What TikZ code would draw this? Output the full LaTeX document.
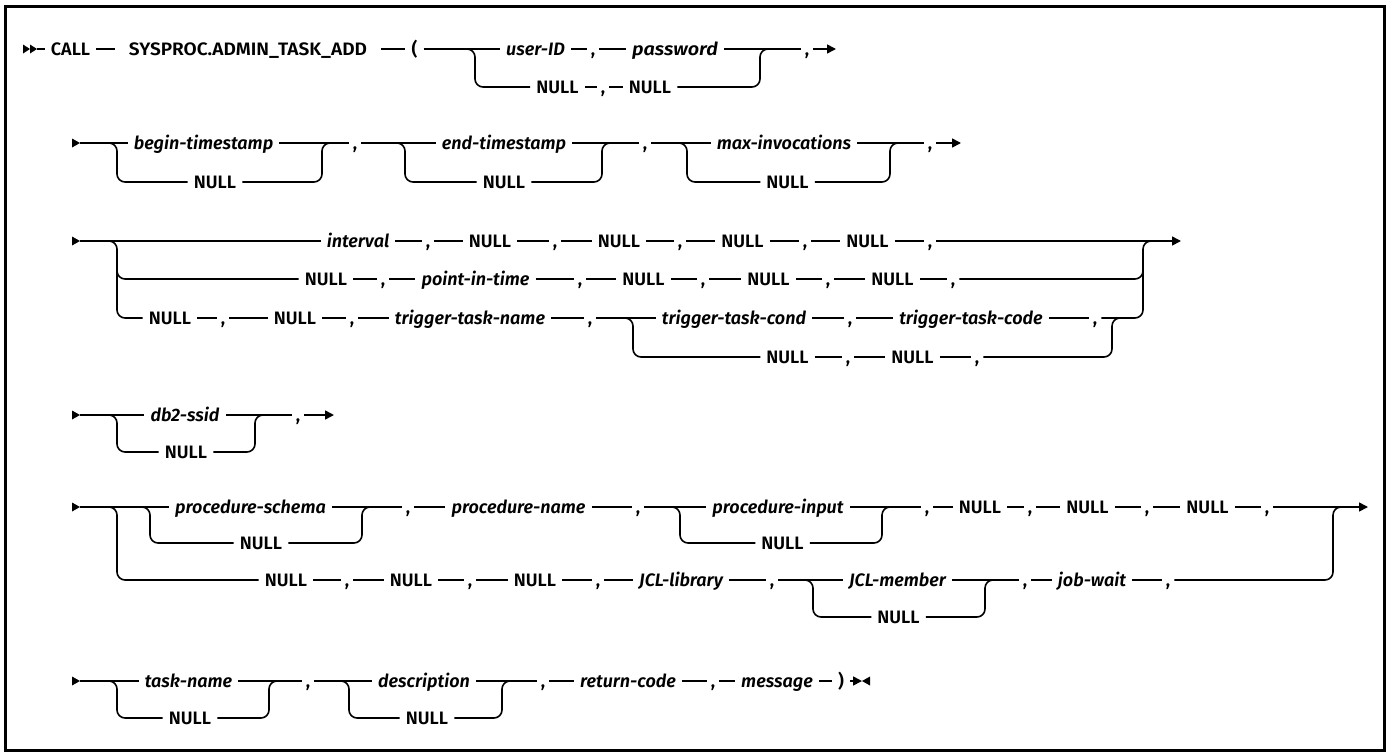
\documentclass[tikz,border=0pt]{standalone}
\usepackage{fontspec}
\setmainfont{Fira Sans}[UprightFont={* SemiBold}, ItalicFont={* SemiBold Italic}]
\usetikzlibrary{arrows.meta}
\newcommand{\diafs}{\fontsize{18}{21}\selectfont}
\begin{document}
\begin{tikzpicture}[x=1pt,y=-1pt,
  rail/.style={line width=1.6pt},
  joinpath/.style={rail, rounded corners=8pt},
  lbl/.style={inner xsep=6pt, inner ysep=0pt, text height=12.5pt, text depth=0pt, font=\diafs},
  kw/.style={lbl},
  var/.style={lbl, font=\diafs\itshape},
  cmma/.style={lbl, inner xsep=4pt},
  endarrow/.style={rail, -{Triangle[length=9pt,width=9pt]}},
  headtri/.style={fill=black}]
\useasboundingbox (0,0) rectangle (1389,755);
\draw[line width=3pt] (5,6.5) rectangle (1384.5,750);

% ---------------- Row 1
\fill[headtri] (23,44.5) -- (30,49) -- (23,53.5) -- cycle;
\fill[headtri] (30,44.5) -- (37,49) -- (30,53.5) -- cycle;
\coordinate (r1s) at (37,49);
\node[kw] (call) at (70.5,49) {CALL};
\node[kw, inner xsep=14pt] (sys) at (248,49) {\scalebox{1.06}[1]{SYSPROC.ADMIN\_TASK\_ADD}};
\node[kw] (lp) at (414.5,49) {(};
\node[var] (uid) at (535.5,49) {user-ID};
\node[cmma] (c1) at (593,49) {,};
\node[var] (pw) at (675,49) {\scalebox{1.1}[1]{password}};
\node[kw] (n1a) at (557.5,87) {NULL};
\node[cmma] (c1b) at (603,87) {,};
\node[kw] (n1b) at (650,87) {NULL};
\node[cmma] (c1e) at (807,49) {,};
\coordinate (s1) at (475,49);
\coordinate (j1) at (760,49);
\coordinate (r1e) at (836,49);
\draw[rail] (r1s) -- (call.west) (call.east) -- (sys.west) (sys.east) -- (lp.west)
  (lp.east) -- (uid.west) (uid.east) -- (c1.west) (c1.east) -- (pw.west) (pw.east) -- (c1e.west);
\draw[endarrow] (c1e.east) -- (r1e);
\draw[joinpath] ([xshift=-8pt]s1) -| (s1 |- n1a) -- (n1a.west);
\draw[rail] (n1a.east) -- (c1b.west) (c1b.east) -- (n1b.west);
\draw[joinpath] (n1b.east) -| (j1) -- ++(8,0);

% ---------------- Row 2
\fill[headtri] (72,138.5) -- (80,143) -- (72,147.5) -- cycle;
\coordinate (r2s) at (80,143);
\node[var] (bts) at (203.5,143) {begin-timestamp};
\node[kw] (n2a) at (215,182) {NULL};
\node[cmma] (c2a) at (355,143) {,};
\node[var] (ets) at (504,143) {end-timestamp};
\node[kw] (n2b) at (504,182) {NULL};
\node[cmma] (c2b) at (645,143) {,};
\node[var] (mi) at (784,143) {max-invocations};
\node[kw] (n2c) at (787.5,182) {NULL};
\node[cmma] (c2c) at (930,143) {,};
\coordinate (r2e) at (961,143);
\coordinate (s2a) at (117,143);
\coordinate (j2a) at (322,143);
\coordinate (s2b) at (405,143);
\coordinate (j2b) at (602,143);
\coordinate (s2c) at (687,143);
\coordinate (j2c) at (890,143);
\draw[rail] (r2s) -- (bts.west) (bts.east) -- (c2a.west) (c2a.east) -- (ets.west)
  (ets.east) -- (c2b.west) (c2b.east) -- (mi.west) (mi.east) -- (c2c.west);
\draw[endarrow] (c2c.east) -- (r2e);
\draw[joinpath] ([xshift=-8pt]s2a) -| (s2a |- n2a) -- (n2a.west);
\draw[joinpath] (n2a.east) -| (j2a) -- ++(8,0);
\draw[joinpath] ([xshift=-8pt]s2b) -| (s2b |- n2b) -- (n2b.west);
\draw[joinpath] (n2b.east) -| (j2b) -- ++(8,0);
\draw[joinpath] ([xshift=-8pt]s2c) -| (s2c |- n2c) -- (n2c.west);
\draw[joinpath] (n2c.east) -| (j2c) -- ++(8,0);

% ---------------- Row 3
\fill[headtri] (72,236.5) -- (80,241) -- (72,245.5) -- cycle;
\coordinate (r3s) at (80,241);
\node[var] (iv) at (358,241) {interval};
\node[cmma] (c3a) at (428,241) {,};
\node[kw] (n3a) at (490,241) {NULL};
\node[cmma] (c3b) at (555,241) {,};
\node[kw] (n3b) at (619,241) {NULL};
\node[cmma] (c3c) at (680,241) {,};
\node[kw] (n3c) at (742.5,241) {NULL};
\node[cmma] (c3d) at (805,241) {,};
\node[kw] (n3d) at (867.5,241) {NULL};
\node[cmma] (c3e) at (930,241) {,};
\coordinate (r3e) at (1181,241);
\node[kw] (n3e) at (326,279) {NULL};
\node[cmma] (c3f) at (383,279) {,};
\node[var] (pit) at (475.5,279) {point-in-time};
\node[cmma] (c3g) at (580,279) {,};
\node[kw] (n3f) at (643.5,279) {NULL};
\node[cmma] (c3h) at (703,279) {,};
\node[kw] (n3g) at (768.5,279) {NULL};
\node[cmma] (c3i) at (828,279) {,};
\node[kw] (n3h) at (892.5,279) {NULL};
\node[cmma] (c3j) at (953,279) {,};
\node[kw] (n3i) at (170,318) {NULL};
\node[cmma] (c3k) at (223,318) {,};
\node[kw] (n3j) at (295,318) {NULL};
\node[cmma] (c3l) at (352,318) {,};
\node[var] (ttn) at (470,318) {trigger-task-name};
\node[cmma] (c3m) at (590,318) {,};
\node[var] (ttc) at (734,318) {trigger-task-cond};
\node[cmma] (c3n) at (850,318) {,};
\node[var] (ttk) at (971,318) {trigger-task-code};
\node[cmma] (c3o) at (1095,318) {,};
\node[kw] (n3k) at (787.5,357) {NULL};
\node[cmma] (c3p) at (848,357) {,};
\node[kw] (n3l) at (912.5,357) {NULL};
\node[cmma] (c3q) at (977,357) {,};
\coordinate (s3) at (117,241);
\coordinate (s3m) at (117,271);
\coordinate (j3) at (1143,241);
\coordinate (j3m) at (1143,271);
\coordinate (s3b) at (633,318);
\coordinate (j3b) at (1112,318);
\draw[rail] (r3s) -- (iv.west) (iv.east) -- (c3a.west) (c3a.east) -- (n3a.west)
  (n3a.east) -- (c3b.west) (c3b.east) -- (n3b.west) (n3b.east) -- (c3c.west)
  (c3c.east) -- (n3c.west) (n3c.east) -- (c3d.west) (c3d.east) -- (n3d.west)
  (n3d.east) -- (c3e.west);
\draw[endarrow] (c3e.east) -- (r3e);
\draw[joinpath] ([xshift=-8pt]s3) -| (s3 |- n3i) -- (n3i.west);
\draw[joinpath] (s3m) |- (n3e.west);
\draw[rail] (n3e.east) -- (c3f.west) (c3f.east) -- (pit.west) (pit.east) -- (c3g.west)
  (c3g.east) -- (n3f.west) (n3f.east) -- (c3h.west) (c3h.east) -- (n3g.west)
  (n3g.east) -- (c3i.west) (c3i.east) -- (n3h.west) (n3h.east) -- (c3j.west);
\draw[joinpath] (c3j.east) -| (j3m);
\draw[rail] (n3i.east) -- (c3k.west) (c3k.east) -- (n3j.west) (n3j.east) -- (c3l.west)
  (c3l.east) -- (ttn.west) (ttn.east) -- (c3m.west) (c3m.east) -- (ttc.west)
  (ttc.east) -- (c3n.west) (c3n.east) -- (ttk.west) (ttk.east) -- (c3o.west);
\draw[joinpath] (c3o.east) -| (j3) -- ++(8,0);
\draw[joinpath] ([xshift=-8pt]s3b) -| (s3b |- n3k) -- (n3k.west);
\draw[rail] (n3k.east) -- (c3p.west) (c3p.east) -- (n3l.west) (n3l.east) -- (c3q.west);
\draw[joinpath] (c3q.east) -| (j3b) -- ++(8,0);

% ---------------- Row 4
\fill[headtri] (72,410.5) -- (80,415) -- (72,419.5) -- cycle;
\coordinate (r4s) at (80,415);
\node[var] (db) at (185,415) {db2-ssid};
\node[kw] (n4) at (186,452) {NULL};
\node[cmma] (c4) at (298,415) {,};
\coordinate (r4e) at (334,415);
\coordinate (s4) at (117,415);
\coordinate (j4) at (255,415);
\draw[rail] (r4s) -- (db.west) (db.east) -- (c4.west);
\draw[endarrow] (c4.east) -- (r4e);
\draw[joinpath] ([xshift=-8pt]s4) -| (s4 |- n4) -- (n4.west);
\draw[joinpath] (n4.east) -| (j4) -- ++(8,0);

% ---------------- Row 5
\fill[headtri] (72,502.5) -- (80,507) -- (72,511.5) -- cycle;
\coordinate (r5s) at (80,507);
\node[var] (ps) at (250.5,507) {procedure-schema};
\node[kw] (n5a) at (261,543) {NULL};
\node[cmma] (c5a) at (408,507) {,};
\node[var] (pn) at (518.5,507) {procedure-name};
\node[cmma] (c5b) at (638,507) {,};
\node[var] (pi) at (778,507) {procedure-input};
\node[kw] (n5b) at (782.5,543) {NULL};
\node[cmma] (c5c) at (927,507) {,};
\node[kw] (n5c) at (980,507) {NULL};
\node[cmma] (c5d) at (1030,507) {,};
\node[kw] (n5d) at (1087.5,507) {NULL};
\node[cmma] (c5e) at (1147,507) {,};
\node[kw] (n5e) at (1207.5,507) {NULL};
\node[cmma] (c5f) at (1267,507) {,};
\coordinate (r5e) at (1368,507);
\node[kw] (n5f) at (286,580) {NULL};
\node[cmma] (c5g) at (347,580) {,};
\node[kw] (n5g) at (411,580) {NULL};
\node[cmma] (c5h) at (470,580) {,};
\node[kw] (n5h) at (535,580) {NULL};
\node[cmma] (c5i) at (598,580) {,};
\node[var] (jl) at (681,580) {JCL-library};
\node[cmma] (c5j) at (772,580) {,};
\node[var] (jm) at (897.5,580) {JCL-member};
\node[kw] (n5i) at (898.5,617) {NULL};
\node[cmma] (c5k) at (1025,580) {,};
\node[var] (jw) at (1092,580) {job-wait};
\node[cmma] (c5l) at (1168,580) {,};
\coordinate (s5) at (117,507);
\coordinate (s5i) at (150,507);
\coordinate (j5i) at (362,507);
\coordinate (s5b) at (680,507);
\coordinate (j5b) at (882,507);
\coordinate (j5) at (1333,507);
\coordinate (s5c) at (813,580);
\coordinate (j5c) at (985,580);
\draw[rail] (r5s) -- (ps.west) (ps.east) -- (c5a.west) (c5a.east) -- (pn.west)
  (pn.east) -- (c5b.west) (c5b.east) -- (pi.west) (pi.east) -- (c5c.west)
  (c5c.east) -- (n5c.west) (n5c.east) -- (c5d.west) (c5d.east) -- (n5d.west)
  (n5d.east) -- (c5e.west) (c5e.east) -- (n5e.west) (n5e.east) -- (c5f.west);
\draw[endarrow] (c5f.east) -- (r5e);
\draw[joinpath] ([xshift=-8pt]s5) -| (s5 |- n5f) -- (n5f.west);
\draw[joinpath] ([xshift=-8pt]s5i) -| (s5i |- n5a) -- (n5a.west);
\draw[joinpath] (n5a.east) -| (j5i) -- ++(8,0);
\draw[joinpath] ([xshift=-8pt]s5b) -| (s5b |- n5b) -- (n5b.west);
\draw[joinpath] (n5b.east) -| (j5b) -- ++(8,0);
\draw[rail] (n5f.east) -- (c5g.west) (c5g.east) -- (n5g.west) (n5g.east) -- (c5h.west)
  (c5h.east) -- (n5h.west) (n5h.east) -- (c5i.west) (c5i.east) -- (jl.west)
  (jl.east) -- (c5j.west) (c5j.east) -- (jm.west) (jm.east) -- (c5k.west)
  (c5k.east) -- (jw.west) (jw.east) -- (c5l.west);
\draw[joinpath] ([xshift=-8pt]s5c) -| (s5c |- n5i) -- (n5i.west);
\draw[joinpath] (n5i.east) -| (j5c) -- ++(8,0);
\draw[joinpath] (c5l.east) -| (j5) -- ++(8,0);

% ---------------- Row 6
\fill[headtri] (72,676.5) -- (80,681) -- (72,685.5) -- cycle;
\coordinate (r6s) at (80,681);
\node[var] (tn) at (188.5,681) {task-name};
\node[kw] (n6a) at (190,718) {NULL};
\node[cmma] (c6a) at (308,681) {,};
\node[var] (de) at (424,681) {description};
\node[kw] (n6b) at (427,718) {NULL};
\node[cmma] (c6b) at (543,681) {,};
\node[var] (rc) at (628,681) {return-code};
\node[cmma] (c6c) at (713,681) {,};
\node[var] (ms) at (777,681) {message};
\node[kw] (rp) at (841,681) {)};
\coordinate (r6e) at (862,681);
\coordinate (s6) at (117,681);
\coordinate (j6) at (269,681);
\coordinate (s6b) at (349,681);
\coordinate (j6b) at (502,681);
\draw[rail] (r6s) -- (tn.west) (tn.east) -- (c6a.west) (c6a.east) -- (de.west)
  (de.east) -- (c6b.west) (c6b.east) -- (rc.west) (rc.east) -- (c6c.west)
  (c6c.east) -- (ms.west) (ms.east) -- (rp.west);
\draw[endarrow] (rp.east) -- (r6e);
\fill[headtri] (870,676.5) -- (862,681) -- (870,685.5) -- cycle;
\draw[joinpath] ([xshift=-8pt]s6) -| (s6 |- n6a) -- (n6a.west);
\draw[joinpath] (n6a.east) -| (j6) -- ++(8,0);
\draw[joinpath] ([xshift=-8pt]s6b) -| (s6b |- n6b) -- (n6b.west);
\draw[joinpath] (n6b.east) -| (j6b) -- ++(8,0);
\end{tikzpicture}
\end{document}
